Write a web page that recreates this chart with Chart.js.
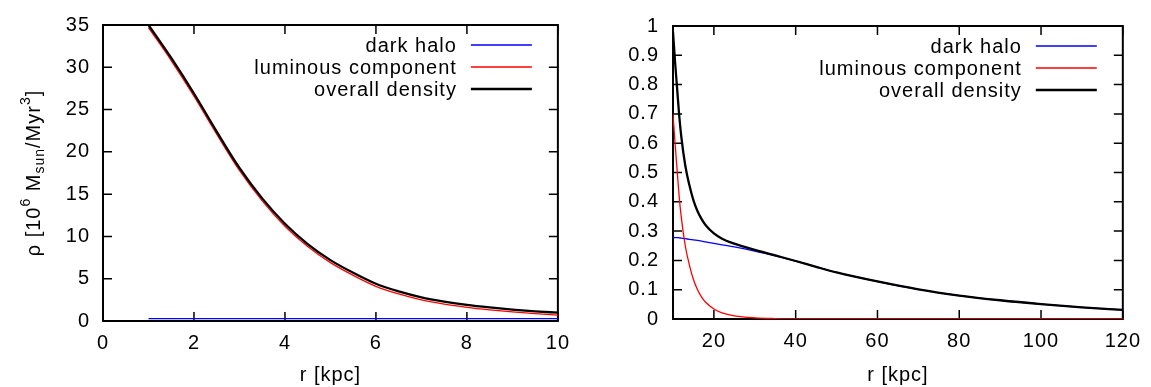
<!DOCTYPE html>
<html><head><meta charset="utf-8">
<script src="https://cdn.jsdelivr.net/npm/chart.js@4.4.1/dist/chart.umd.min.js"></script>
<style>
html,body{margin:0;padding:0;background:#fff;overflow:hidden}
#wrap{position:relative;width:1151px;height:387px;background:#fff}
canvas{position:absolute;top:0}
</style></head><body>
<div id="wrap">
<canvas id="c1" width="580" height="387" style="left:0"></canvas>
<canvas id="c2" width="571" height="387" style="left:580px"></canvas>
</div>
<script>
// ---- data ----
const seriesLabels = ['dark halo', 'luminous component', 'overall density'];

// left panel: inner region, r in kpc, rho in 10^6 Msun/Myr^3
const innerR     = [1.0, 1.5, 2.0, 2.5, 3.0, 3.5, 4.0, 4.5, 5.0, 5.5, 6.0, 6.5, 7.0, 7.5, 8.0, 8.5, 9.0, 9.5, 10.0];
const innerDark  = [0.29, 0.29, 0.29, 0.29, 0.29, 0.29, 0.29, 0.29, 0.29, 0.285, 0.285, 0.285, 0.285, 0.285, 0.28, 0.28, 0.28, 0.28, 0.28];
const innerLum   = [34.7, 30.8, 26.6, 22.1, 17.8, 14.2, 11.2, 8.8, 6.9, 5.4, 4.1, 3.2, 2.5, 2.0, 1.62, 1.32, 1.07, 0.87, 0.70];
const innerTotal = [35.0, 31.1, 26.9, 22.4, 18.1, 14.5, 11.5, 9.1, 7.2, 5.7, 4.4, 3.5, 2.8, 2.3, 1.9, 1.6, 1.35, 1.15, 0.98];

// right panel: outer region
const outerR     = [10, 10.5, 11, 11.5, 12, 13, 14, 15, 16, 17, 18, 20, 22, 25, 30, 35, 40, 45, 50, 60, 70, 80, 90, 100, 110, 120];
const outerDark  = [0.279, 0.278, 0.278, 0.277, 0.276, 0.274, 0.272, 0.270, 0.268, 0.266, 0.263, 0.258, 0.253, 0.246, 0.232, 0.2155, 0.1975, 0.178, 0.159, 0.128, 0.101, 0.080, 0.064, 0.051, 0.040, 0.031];
const outerLum   = [0.70, 0.60, 0.51, 0.42, 0.35, 0.25, 0.185, 0.135, 0.10, 0.075, 0.057, 0.034, 0.021, 0.011, 0.004, 0.0015, 0.0006, 0.0003, 0.0002, 0, 0, 0, 0, 0, 0, 0];
const outerTotal = [0.98, 0.878, 0.788, 0.697, 0.626, 0.524, 0.457, 0.405, 0.368, 0.341, 0.320, 0.292, 0.274, 0.257, 0.236, 0.217, 0.198, 0.178, 0.159, 0.128, 0.101, 0.080, 0.064, 0.051, 0.040, 0.031];

// tick values
const innerXTicks = [0, 2, 4, 6, 8, 10];
const innerYTicks = [0, 5, 10, 15, 20, 25, 30, 35];
const outerXTicks = [20, 40, 60, 80, 100, 120];
const outerYTicks = [0, 0.1, 0.2, 0.3, 0.4, 0.5, 0.6, 0.7, 0.8, 0.9, 1];

// ---- styling ----
const FONT = '"Liberation Sans", Arial, Helvetica, sans-serif';
const FS = 20;
const seriesColors = ['#0000ff', '#ff0000', '#000000'];
const seriesWidths = [1.3, 1.3, 2.3];

Chart.defaults.font.family = FONT;
Chart.defaults.font.size = FS;
Chart.defaults.color = '#000';

function setSpacing(ctx){ try { ctx.letterSpacing = '1px'; } catch(e){} }
function fmt(v){ return String(Math.round(v * 100) / 100); }

const spacingPlugin = {
  id: 'spacing',
  afterInit(chart){ setSpacing(chart.ctx); },
  beforeUpdate(chart){ setSpacing(chart.ctx); },
  beforeDraw(chart){ setSpacing(chart.ctx); }
};

const framePlugin = {
  id: 'frame',
  beforeDatasetsDraw(chart){
    const {ctx, chartArea: a} = chart;
    const x = chart.scales.x, y = chart.scales.y;
    const L = 9;
    ctx.save();
    ctx.strokeStyle = '#000';
    ctx.lineWidth = 1.5;
    ctx.beginPath();
    x.ticks.forEach(t => {
      const px = x.getPixelForValue(t.value);
      ctx.moveTo(px, a.bottom); ctx.lineTo(px, a.bottom - L);
      ctx.moveTo(px, a.top); ctx.lineTo(px, a.top + L);
    });
    y.ticks.forEach(t => {
      const py = y.getPixelForValue(t.value);
      ctx.moveTo(a.left, py); ctx.lineTo(a.left + L, py);
      ctx.moveTo(a.right, py); ctx.lineTo(a.right - L, py);
    });
    ctx.stroke();
    ctx.lineWidth = 2;
    ctx.strokeRect(a.left, a.top, a.right - a.left, a.bottom - a.top);
    ctx.restore();
  },
  afterDraw(chart){
    // gnuplot-style key: text right-aligned, then line sample
    const {ctx, chartArea: a} = chart;
    ctx.save();
    setSpacing(ctx);
    ctx.font = FS + 'px ' + FONT;
    ctx.textAlign = 'right';
    ctx.textBaseline = 'middle';
    chart.data.datasets.forEach((d, i) => {
      const yy = a.top + 20 + i * 22;
      ctx.fillStyle = '#000';
      ctx.fillText(d.label, a.right - 101, yy + 1);
      ctx.strokeStyle = d.borderColor;
      ctx.lineWidth = d.borderWidth;
      ctx.beginPath();
      ctx.moveTo(a.right - 87, yy);
      ctx.lineTo(a.right - 26, yy);
      ctx.stroke();
    });
    ctx.restore();
  }
};

const yTitlePlugin = {
  id: 'ytitle',
  afterDraw(chart){
    const parts = [
      {t: 'ρ [10', s: 20, dy: 0},
      {t: '6', s: 14, dy: 10},
      {t: ' M', s: 20, dy: 0},
      {t: 'sun', s: 14, dy: -4},
      {t: '/Myr', s: 20, dy: 0},
      {t: '3', s: 14, dy: 10},
      {t: ']', s: 20, dy: 0}
    ];
    const {ctx, chartArea: a} = chart;
    ctx.save();
    setSpacing(ctx);
    ctx.fillStyle = '#000';
    ctx.textAlign = 'left';
    ctx.textBaseline = 'alphabetic';
    let total = 0;
    parts.forEach(p => { ctx.font = p.s + 'px ' + FONT; p.w = ctx.measureText(p.t).width; total += p.w; });
    ctx.translate(40, (a.top + a.bottom) / 2);
    ctx.rotate(-Math.PI / 2);
    let cx = -total / 2;
    parts.forEach(p => { ctx.font = p.s + 'px ' + FONT; ctx.fillText(p.t, cx, -p.dy); cx += p.w; });
    ctx.restore();
  }
};

function ds(xs, ys, i){
  return {
    label: seriesLabels[i],
    data: xs.map((x, k) => ({x: x, y: ys[k]})),
    borderColor: seriesColors[i],
    backgroundColor: seriesColors[i],
    borderWidth: seriesWidths[i],
    pointRadius: 0,
    fill: false,
    cubicInterpolationMode: 'monotone',
    order: 3 - i
  };
}

function makeOptions(c){
  return {
    responsive: false,
    animation: false,
    devicePixelRatio: 1,
    events: [],
    layout: {padding: {top: c.top, right: c.right, left: 0, bottom: 0}},
    plugins: {legend: {display: false}, tooltip: {enabled: false}},
    scales: {
      x: {
        type: 'linear', min: c.xmin, max: c.xmax,
        afterBuildTicks: s => { s.ticks = c.xticks.map(v => ({value: v})); },
        afterFit: s => { s.height = c.xh; },
        grid: {display: false, drawTicks: false},
        border: {display: false},
        ticks: {padding: 10, maxRotation: 0, autoSkip: false, color: '#000', font: {size: FS}, callback: fmt},
        title: {display: true, text: 'r [kpc]', color: '#000', font: {size: FS}, padding: {top: 0, bottom: 0}}
      },
      y: {
        type: 'linear', min: c.ymin, max: c.ymax,
        afterBuildTicks: s => { s.ticks = c.yticks.map(v => ({value: v})); },
        afterFit: s => { s.width = c.yw; },
        grid: {display: false, drawTicks: false},
        border: {display: false},
        ticks: {padding: c.ypad, autoSkip: false, color: '#000', font: {size: FS}, callback: fmt}
      }
    }
  };
}

new Chart(document.getElementById('c1'), {
  type: 'line',
  data: {datasets: [ds(innerR, innerDark, 0), ds(innerR, innerLum, 1), ds(innerR, innerTotal, 2)]},
  options: makeOptions({top: 24, right: 21, xh: 66, yw: 103, ypad: 13,
    xmin: 0, xmax: 10, ymin: 0, ymax: 35, xticks: innerXTicks, yticks: innerYTicks}),
  plugins: [spacingPlugin, framePlugin, yTitlePlugin]
});

new Chart(document.getElementById('c2'), {
  type: 'line',
  data: {datasets: [ds(outerR, outerDark, 0), ds(outerR, outerLum, 1), ds(outerR, outerTotal, 2)]},
  options: makeOptions({top: 15, right: 26, xh: 68, yw: 93, ypad: 14,
    xmin: 10, xmax: 120, ymin: 0, ymax: 1, xticks: outerXTicks, yticks: outerYTicks}),
  plugins: [spacingPlugin, framePlugin]
});
</script>
</body></html>
